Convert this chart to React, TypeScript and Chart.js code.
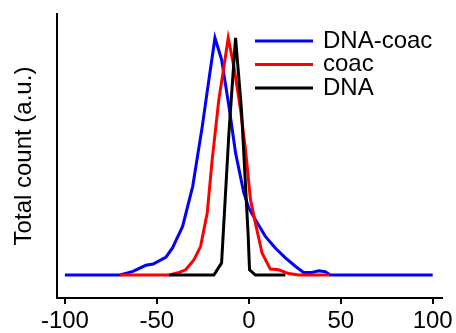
import React, { useEffect, useRef } from "react";
import { Chart, registerables } from "chart.js";

Chart.register(...registerables);

const seriesLabels = ["DNA-coac", "coac", "DNA"];
const seriesColors = ["#0000ff", "#ff0000", "#000000"];

const dnaCoacX = [-100, -70, -63, -56, -52, -45, -41.5, -36, -30.5, -25.3, -21.7, -18.4, -14.8, -10.8, -7.2, -2.7, 0, 3.6, 9, 14.4, 19.9, 25.3, 29.8, 34.3, 38, 41.6, 44.3, 100];
const dnaCoacY = [0, 0, 0.015, 0.041, 0.046, 0.076, 0.114, 0.205, 0.374, 0.627, 0.824, 1.0, 0.909, 0.712, 0.515, 0.346, 0.283, 0.233, 0.163, 0.114, 0.072, 0.037, 0.011, 0.011, 0.018, 0.014, 0, 0];

const coacX = [-70, -43.3, -37.9, -34.3, -29.8, -26.2, -22.6, -19.9, -16.3, -13.5, -11.2, -8.1, -4.5, -1.8, 0.9, 3.6, 7.2, 11.7, 16.2, 21.7, 27.1, 44];
const coacY = [0, 0, 0.011, 0.022, 0.065, 0.121, 0.262, 0.487, 0.74, 0.88, 1.0, 0.88, 0.698, 0.529, 0.318, 0.219, 0.093, 0.025, 0.022, 0.006, 0, 0];

const dnaX = [-43.3, -19, -14.8, -10.8, -7.2, -4, -0.4, 0.4, 3.6, 19.9];
const dnaY = [0, 0, 0.051, 0.6, 1.0, 0.698, 0.177, 0.022, 0, 0];

const xTickValues = [-100, -50, 0, 50, 100];
const yTitle = "Total count (a.u.)";

const FONT = "'Liberation Sans', Arial, sans-serif";

const toPoints = (xs: number[], ys: number[]) => xs.map((x, i) => ({ x, y: ys[i] }));

const legendPlugin = {
  id: "customLegend",
  afterDraw(chart: any) {
    const ctx = chart.ctx;
    ctx.save();
    chart.data.datasets.forEach((ds: any, i: number) => {
      const y = 41 + i * 23.5;
      ctx.strokeStyle = ds.borderColor;
      ctx.lineWidth = 3;
      ctx.beginPath();
      ctx.moveTo(255, y);
      ctx.lineTo(313, y);
      ctx.stroke();
      ctx.fillStyle = "#000";
      ctx.font = `24px ${FONT}`;
      ctx.textBaseline = "middle";
      ctx.textAlign = "left";
      ctx.fillText(ds.label, 323, y);
    });
    ctx.restore();
  },
};

export default function App() {
  const ref = useRef<HTMLCanvasElement>(null);
  useEffect(() => {
    if (!ref.current) return;
    const xs = [dnaCoacX, coacX, dnaX];
    const ys = [dnaCoacY, coacY, dnaY];
    const chart = new Chart(ref.current, {
      type: "line",
      data: {
        datasets: seriesLabels.map((label, i) => ({
          label,
          data: toPoints(xs[i], ys[i]),
          borderColor: seriesColors[i],
          backgroundColor: seriesColors[i],
          borderWidth: 3,
          pointRadius: 0,
          tension: 0,
          fill: false,
          order: 3 - i,
        })),
      },
      options: {
        responsive: false,
        animation: false,
        layout: { padding: { top: 14, right: 12, left: 0, bottom: 0 } },
        plugins: { legend: { display: false }, tooltip: { enabled: false } },
        scales: {
          x: {
            type: "linear",
            min: -104.3,
            max: 104.9,
            afterBuildTicks: (scale: any) => {
              scale.ticks = xTickValues.map((v) => ({ value: v }));
            },
            afterFit: (scale: any) => {
              scale.height = 35;
            },
            grid: {
              display: true,
              drawOnChartArea: false,
              drawTicks: true,
              tickLength: 6,
              color: "#000",
              lineWidth: 2,
            },
            border: { display: true, color: "#000", width: 2 },
            ticks: {
              color: "#000",
              font: { size: 24, family: FONT },
              padding: 3,
              maxRotation: 0,
              autoSkip: false,
            },
          },
          y: {
            type: "linear",
            min: -0.097,
            max: 1.101,
            afterFit: (scale: any) => {
              scale.width = 57;
            },
            grid: { display: false },
            border: { display: true, color: "#000", width: 2 },
            ticks: { display: false },
            title: {
              display: true,
              text: yTitle,
              color: "#000",
              font: { size: 24, family: FONT },
              padding: { top: 10, bottom: 0 },
            },
          },
        },
      },
      plugins: [legendPlugin],
    });
    return () => chart.destroy();
  }, []);
  return (
    <div style={{ position: "fixed", left: 0, top: 0, width: 456, height: 333, background: "#fff" }}>
      <canvas ref={ref} width={456} height={333} style={{ display: "block" }} />
    </div>
  );
}
